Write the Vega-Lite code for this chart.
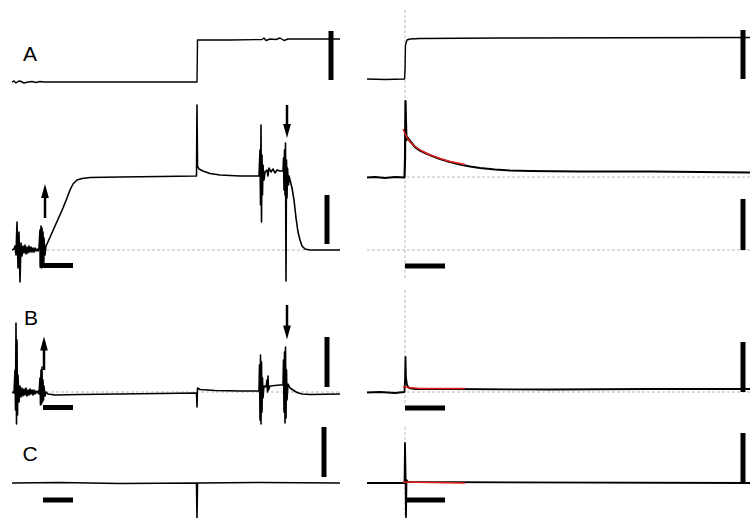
{
"$schema": "https://vega.github.io/schema/vega-lite/v6.json",
"padding": {"left": 12, "top": 0, "right": 0, "bottom": 0},
"background": "white",
"spacing": 0,
"config": {"view": {"stroke": null}, "font": "Liberation Sans", "line": {"strokeJoin": "round"}, "scale": {"continuousPadding": 0}},
"vconcat": [
{"spacing": 25, "bounds": "flush", "hconcat": [
 {"width": 330, "height": 95,
  "encoding": {"x": {"field": "t", "type": "quantitative", "axis": null, "scale": {"domain": [0, 165], "nice": false, "zero": false, "padding": 0}},
               "y": {"field": "v", "type": "quantitative", "axis": null, "scale": {"domain": [-13, 82], "nice": false, "zero": false, "padding": 0}}},
  "layer": [
   {"data": {"values": [{"t":0,"v":0},{"t":1,"v":1},{"t":2,"v":-1},{"t":3,"v":0.5},{"t":4,"v":1},{"t":6,"v":-1},{"t":8,"v":0},{"t":10,"v":0.5},{"t":12,"v":-0.5},{"t":14,"v":0.5},{"t":16,"v":0},{"t":44,"v":0},{"t":92.5,"v":0},{"t":92.75,"v":42},{"t":109,"v":42},{"t":125,"v":42.5},{"t":126,"v":44},{"t":127,"v":41.5},{"t":129,"v":43},{"t":132,"v":42.5},{"t":134,"v":44},{"t":136,"v":41.5},{"t":138,"v":43},{"t":144,"v":43},{"t":164,"v":43}]},
    "mark": {"type": "line", "color": "black", "strokeWidth": 1.4, "clip": true}},
   {"data": {"values": [{"t":159.5,"v":51,"v2":2}]},
    "mark": {"type": "bar", "orient": "vertical", "size": 5, "color": "black", "clip": true},
    "encoding": {"y2": {"field": "v2"}}},
   {"data": {"values": [{"t":9,"v":21,"label":"A"}]},
    "mark": {"type": "text", "fontSize": 21, "align": "center", "baseline": "alphabetic", "color": "black", "clip": true},
    "encoding": {"text": {"field": "label"}}}
  ]},
 {"width": 383, "height": 95,
  "encoding": {"x": {"field": "t", "type": "quantitative", "axis": null, "scale": {"domain": [-95, 862.5], "nice": false, "zero": false, "padding": 0}},
               "y": {"field": "v", "type": "quantitative", "axis": null, "scale": {"domain": [-13, 82], "nice": false, "zero": false, "padding": 0}}},
  "layer": [
   {"data": {"values": [{"t":0,"t2":0,"v":72,"v2":-13}]},
    "mark": {"type": "rule", "color": "#a8a8a8", "strokeWidth": 0.8, "strokeDash": [3, 2], "clip": true},
    "encoding": {"x2": {"field": "t2"}, "y2": {"field": "v2"}}},
   {"data": {"values": [{"t":-95,"v":3},{"t":-50,"v":2.5},{"t":-1.25,"v":3},{"t":0,"v":12},{"t":1.25,"v":37},{"t":5,"v":42},{"t":12.5,"v":43},{"t":37.5,"v":43.5},{"t":237.5,"v":44},{"t":862.5,"v":44.5}]},
    "mark": {"type": "line", "color": "black", "strokeWidth": 1.4, "clip": true}},
   {"data": {"values": [{"t":845,"v":52,"v2":3}]},
    "mark": {"type": "bar", "orient": "vertical", "size": 5, "color": "black", "clip": true},
    "encoding": {"y2": {"field": "v2"}}}
  ]}
]},
{"spacing": 25, "bounds": "flush", "hconcat": [
 {"width": 330, "height": 190,
  "encoding": {"x": {"field": "t", "type": "quantitative", "axis": null, "scale": {"domain": [0, 165], "nice": false, "zero": false, "padding": 0}},
               "y": {"field": "v", "type": "quantitative", "axis": null, "scale": {"domain": [-140, 620], "nice": false, "zero": false, "padding": 0}}},
  "layer": [
   {"data": {"values": [{"t":17.5,"t2":164,"v":0,"v2":0}]},
    "mark": {"type": "rule", "color": "#a8a8a8", "strokeWidth": 0.8, "strokeDash": [3, 2], "clip": true},
    "encoding": {"x2": {"field": "t2"}, "y2": {"field": "v2"}}},
   {"data": {"values": [{"t":0,"v":0},{"t":1,"v":4},{"t":1.5,"v":16},{"t":2,"v":-20},{"t":2.5,"v":112},{"t":3,"v":-72},{"t":3.5,"v":72},{"t":4,"v":-128},{"t":4.5,"v":28},{"t":5,"v":-24},{"t":5.5,"v":16},{"t":6,"v":-12},{"t":6.5,"v":20},{"t":7,"v":-16},{"t":7.5,"v":12},{"t":8,"v":-12},{"t":8.5,"v":16},{"t":9,"v":-8},{"t":9.5,"v":12},{"t":10,"v":-8},{"t":10.5,"v":8},{"t":11,"v":-8},{"t":11.5,"v":8},{"t":12,"v":-4},{"t":12.5,"v":4},{"t":13,"v":-4},{"t":13.5,"v":8},{"t":14,"v":80},{"t":14.25,"v":-64},{"t":14.5,"v":96},{"t":14.75,"v":-72},{"t":15,"v":88},{"t":15.25,"v":-60},{"t":15.5,"v":72},{"t":15.75,"v":-48},{"t":16,"v":48},{"t":16.5,"v":-20},{"t":17,"v":16},{"t":17.5,"v":24},{"t":21.5,"v":96},{"t":25.5,"v":168},{"t":27.5,"v":208},{"t":29,"v":240},{"t":30.5,"v":264},{"t":32.5,"v":280},{"t":35,"v":286},{"t":39,"v":290},{"t":54,"v":292},{"t":74,"v":294},{"t":92.25,"v":296},{"t":92.5,"v":580},{"t":92.75,"v":336},{"t":93.5,"v":324},{"t":95.5,"v":316},{"t":99,"v":306},{"t":104,"v":300},{"t":114,"v":296},{"t":123.5,"v":296},{"t":124,"v":400},{"t":124.25,"v":180},{"t":124.5,"v":500},{"t":124.75,"v":112},{"t":125,"v":380},{"t":125.25,"v":220},{"t":125.5,"v":340},{"t":126,"v":280},{"t":126.5,"v":312},{"t":127.5,"v":320},{"t":128,"v":296},{"t":128.5,"v":328},{"t":129.5,"v":312},{"t":130.5,"v":324},{"t":131.5,"v":308},{"t":132.5,"v":320},{"t":134,"v":316},{"t":135.5,"v":316},{"t":135.75,"v":368},{"t":136,"v":240},{"t":136.25,"v":400},{"t":136.5,"v":220},{"t":136.75,"v":428},{"t":137,"v":-124},{"t":137.25,"v":360},{"t":137.5,"v":208},{"t":137.75,"v":328},{"t":138.25,"v":260},{"t":138.5,"v":296},{"t":139,"v":280},{"t":140,"v":248},{"t":141,"v":200},{"t":142,"v":128},{"t":143,"v":72},{"t":144,"v":40},{"t":145,"v":16},{"t":146.5,"v":4},{"t":149,"v":0},{"t":164,"v":0}]},
    "mark": {"type": "line", "color": "black", "strokeWidth": 1.6, "clip": true}},
   {"data": {"values": [{"t":15,"v":20,"v2":-72},{"t":157.5,"v":220,"v2":24}]},
    "mark": {"type": "bar", "orient": "vertical", "size": 5, "color": "black", "clip": true},
    "encoding": {"y2": {"field": "v2"}}},
   {"data": {"values": [{"t":15.5,"t2":30.5,"v":-62}]},
    "mark": {"type": "bar", "orient": "horizontal", "size": 5, "color": "black", "clip": true},
    "encoding": {"x2": {"field": "t2"}}},
   {"data": {"values": [{"t":16.5,"t2":16.5,"v":128,"v2":216},{"t":137.5,"t2":137.5,"v":580,"v2":504}]},
    "mark": {"type": "rule", "color": "black", "strokeWidth": 2.5, "clip": true},
    "encoding": {"x2": {"field": "t2"}, "y2": {"field": "v2"}}},
   {"data": {"values": [{"t":16.5,"v":236,"dir":"up"},{"t":137.5,"v":476,"dir":"down"}]},
    "mark": {"type": "point", "filled": true, "color": "black", "opacity": 1, "size": 196, "strokeWidth": 0, "clip": true},
    "encoding": {"shape": {"field": "dir", "type": "nominal", "legend": null, "scale": {"domain": ["up", "down"], "range": ["M-0.55,1L0.55,1L0,-1Z", "M-0.55,-1L0.55,-1L0,1Z"]}}}}
  ]},
 {"width": 383, "height": 190,
  "encoding": {"x": {"field": "t", "type": "quantitative", "axis": null, "scale": {"domain": [-95, 862.5], "nice": false, "zero": false, "padding": 0}},
               "y": {"field": "v", "type": "quantitative", "axis": null, "scale": {"domain": [-140, 620], "nice": false, "zero": false, "padding": 0}}},
  "layer": [
   {"data": {"values": [{"t":-95,"t2":862.5,"v":292,"v2":292},{"t":-95,"t2":862.5,"v":0,"v2":0},{"t":0,"t2":0,"v":620,"v2":-120}]},
    "mark": {"type": "rule", "color": "#a8a8a8", "strokeWidth": 0.8, "strokeDash": [3, 2], "clip": true},
    "encoding": {"x2": {"field": "t2"}, "y2": {"field": "v2"}}},
   {"data": {"values": [{"t":-95,"v":290},{"t":-75,"v":292},{"t":-50,"v":288},{"t":-25,"v":292},{"t":-1.25,"v":290},{"t":0,"v":360},{"t":1.25,"v":596},{"t":2.5,"v":500},{"t":3.75,"v":440},{"t":5,"v":452},{"t":12.5,"v":436},{"t":25,"v":412},{"t":37.5,"v":398},{"t":50,"v":388},{"t":67.5,"v":376},{"t":87.5,"v":364},{"t":112.5,"v":352},{"t":137.5,"v":342},{"t":162.5,"v":334},{"t":187.5,"v":328},{"t":225,"v":322},{"t":262.5,"v":318},{"t":312.5,"v":316},{"t":437.5,"v":314},{"t":612.5,"v":314},{"t":737.5,"v":312},{"t":862.5,"v":310}]},
    "mark": {"type": "line", "color": "black", "strokeWidth": 2.2, "clip": true}},
   {"data": {"values": [{"t":-5,"v":484},{"t":2.5,"v":456},{"t":12.5,"v":432},{"t":25,"v":414},{"t":37.5,"v":400},{"t":62.5,"v":380},{"t":87.5,"v":366},{"t":112.5,"v":354},{"t":150,"v":342}]},
    "mark": {"type": "line", "color": "#e3211c", "strokeWidth": 1.4, "clip": true}},
   {"data": {"values": [{"t":845,"v":204,"v2":0}]},
    "mark": {"type": "bar", "orient": "vertical", "size": 5, "color": "black", "clip": true},
    "encoding": {"y2": {"field": "v2"}}},
   {"data": {"values": [{"t":0,"t2":100,"v":-64}]},
    "mark": {"type": "bar", "orient": "horizontal", "size": 5, "color": "black", "clip": true},
    "encoding": {"x2": {"field": "t2"}}}
  ]}
]},
{"spacing": 25, "bounds": "flush", "hconcat": [
 {"width": 330, "height": 140,
  "encoding": {"x": {"field": "t", "type": "quantitative", "axis": null, "scale": {"domain": [0, 165], "nice": false, "zero": false, "padding": 0}},
               "y": {"field": "v", "type": "quantitative", "axis": null, "scale": {"domain": [-66, 214], "nice": false, "zero": false, "padding": 0}}},
  "layer": [
   {"data": {"values": [{"t":17,"t2":164,"v":0,"v2":0}]},
    "mark": {"type": "rule", "color": "#a8a8a8", "strokeWidth": 0.8, "strokeDash": [3, 2], "clip": true},
    "encoding": {"x2": {"field": "t2"}, "y2": {"field": "v2"}}},
   {"data": {"values": [{"t":0,"v":0},{"t":1,"v":-2},{"t":1.5,"v":44},{"t":1.75,"v":-36},{"t":2,"v":138},{"t":2.25,"v":-64},{"t":2.5,"v":104},{"t":2.75,"v":-46},{"t":3,"v":34},{"t":3.5,"v":-20},{"t":4,"v":12},{"t":4.5,"v":-10},{"t":5,"v":8},{"t":5.5,"v":-8},{"t":6,"v":6},{"t":6.5,"v":-6},{"t":7,"v":8},{"t":7.5,"v":-8},{"t":8,"v":4},{"t":8.5,"v":-6},{"t":9,"v":6},{"t":9.5,"v":-4},{"t":10,"v":4},{"t":10.5,"v":-6},{"t":11,"v":4},{"t":11.5,"v":-4},{"t":12,"v":2},{"t":12.5,"v":-2},{"t":13,"v":2},{"t":13.5,"v":-4},{"t":14,"v":28},{"t":14.25,"v":-26},{"t":14.5,"v":44},{"t":14.75,"v":-24},{"t":15,"v":50},{"t":15.25,"v":-20},{"t":15.5,"v":24},{"t":15.75,"v":-16},{"t":16,"v":12},{"t":16.5,"v":-8},{"t":17,"v":0},{"t":18,"v":-4},{"t":21.5,"v":-6},{"t":34,"v":-5},{"t":54,"v":-4},{"t":74,"v":-3},{"t":92.25,"v":-2},{"t":92.5,"v":-30},{"t":92.75,"v":8},{"t":94,"v":5},{"t":101.5,"v":3},{"t":114,"v":2},{"t":123.5,"v":2},{"t":123.75,"v":54},{"t":124,"v":-56},{"t":124.25,"v":74},{"t":124.5,"v":-64},{"t":124.75,"v":60},{"t":125,"v":-40},{"t":125.25,"v":28},{"t":125.5,"v":-12},{"t":126,"v":12},{"t":127,"v":10},{"t":127.5,"v":24},{"t":127.75,"v":0},{"t":128,"v":32},{"t":128.25,"v":4},{"t":129,"v":12},{"t":131.5,"v":13},{"t":134,"v":14},{"t":135.5,"v":14},{"t":135.75,"v":64},{"t":136,"v":-40},{"t":136.25,"v":80},{"t":136.5,"v":-62},{"t":136.75,"v":90},{"t":137,"v":-52},{"t":137.25,"v":44},{"t":137.5,"v":-16},{"t":138,"v":16},{"t":139,"v":8},{"t":140.5,"v":4},{"t":142.5,"v":-1},{"t":145,"v":-4},{"t":149,"v":-5},{"t":164,"v":-4}]},
    "mark": {"type": "line", "color": "black", "strokeWidth": 1.6, "clip": true}},
   {"data": {"values": [{"t":157.5,"v":110,"v2":10}]},
    "mark": {"type": "bar", "orient": "vertical", "size": 5, "color": "black", "clip": true},
    "encoding": {"y2": {"field": "v2"}}},
   {"data": {"values": [{"t":15.5,"t2":30.5,"v":-31}]},
    "mark": {"type": "bar", "orient": "horizontal", "size": 5, "color": "black", "clip": true},
    "encoding": {"x2": {"field": "t2"}}},
   {"data": {"values": [{"t":16,"t2":16,"v":44,"v2":84},{"t":137.5,"t2":137.5,"v":174,"v2":132}]},
    "mark": {"type": "rule", "color": "black", "strokeWidth": 2.5, "clip": true},
    "encoding": {"x2": {"field": "t2"}, "y2": {"field": "v2"}}},
   {"data": {"values": [{"t":16,"v":97,"dir":"up"},{"t":137.5,"v":119,"dir":"down"}]},
    "mark": {"type": "point", "filled": true, "color": "black", "opacity": 1, "size": 196, "strokeWidth": 0, "clip": true},
    "encoding": {"shape": {"field": "dir", "type": "nominal", "legend": null, "scale": {"domain": ["up", "down"], "range": ["M-0.55,1L0.55,1L0,-1Z", "M-0.55,-1L0.55,-1L0,1Z"]}}}},
   {"data": {"values": [{"t":9.5,"v":134,"label":"B"}]},
    "mark": {"type": "text", "fontSize": 21, "align": "center", "baseline": "alphabetic", "color": "black", "clip": true},
    "encoding": {"text": {"field": "label"}}}
  ]},
 {"width": 383, "height": 140,
  "encoding": {"x": {"field": "t", "type": "quantitative", "axis": null, "scale": {"domain": [-95, 862.5], "nice": false, "zero": false, "padding": 0}},
               "y": {"field": "v", "type": "quantitative", "axis": null, "scale": {"domain": [-66, 214], "nice": false, "zero": false, "padding": 0}}},
  "layer": [
   {"data": {"values": [{"t":-95,"t2":862.5,"v":0,"v2":0},{"t":0,"t2":0,"v":204,"v2":-22}]},
    "mark": {"type": "rule", "color": "#a8a8a8", "strokeWidth": 0.8, "strokeDash": [3, 2], "clip": true},
    "encoding": {"x2": {"field": "t2"}, "y2": {"field": "v2"}}},
   {"data": {"values": [{"t":-95,"v":-1},{"t":-62.5,"v":0},{"t":-25,"v":-2},{"t":-1.25,"v":0},{"t":0,"v":24},{"t":1.25,"v":70},{"t":2.5,"v":28},{"t":5,"v":14},{"t":10,"v":8},{"t":25,"v":6},{"t":112.5,"v":6},{"t":362.5,"v":5},{"t":612.5,"v":6},{"t":862.5,"v":6}]},
    "mark": {"type": "line", "color": "black", "strokeWidth": 1.8, "clip": true}},
   {"data": {"values": [{"t":-5,"v":10},{"t":37.5,"v":7},{"t":150,"v":7}]},
    "mark": {"type": "line", "color": "#e3211c", "strokeWidth": 1.4, "clip": true}},
   {"data": {"values": [{"t":845,"v":100,"v2":0}]},
    "mark": {"type": "bar", "orient": "vertical", "size": 5, "color": "black", "clip": true},
    "encoding": {"y2": {"field": "v2"}}},
   {"data": {"values": [{"t":0,"t2":100,"v":-32}]},
    "mark": {"type": "bar", "orient": "horizontal", "size": 5, "color": "black", "clip": true},
    "encoding": {"x2": {"field": "t2"}}}
  ]}
]},
{"spacing": 25, "bounds": "flush", "hconcat": [
 {"width": 330, "height": 93,
  "encoding": {"x": {"field": "t", "type": "quantitative", "axis": null, "scale": {"domain": [0, 165], "nice": false, "zero": false, "padding": 0}},
               "y": {"field": "v", "type": "quantitative", "axis": null, "scale": {"domain": [-70, 116], "nice": false, "zero": false, "padding": 0}}},
  "layer": [
   {"data": {"values": [{"t":0,"v":0},{"t":24,"v":1},{"t":54,"v":-1},{"t":92.25,"v":0},{"t":92.5,"v":-70},{"t":92.75,"v":0},{"t":124,"v":1},{"t":164,"v":0}]},
    "mark": {"type": "line", "color": "black", "strokeWidth": 1.6, "clip": true}},
   {"data": {"values": [{"t":156,"v":112,"v2":12}]},
    "mark": {"type": "bar", "orient": "vertical", "size": 5, "color": "black", "clip": true},
    "encoding": {"y2": {"field": "v2"}}},
   {"data": {"values": [{"t":15.5,"t2":30.5,"v":-34}]},
    "mark": {"type": "bar", "orient": "horizontal", "size": 5, "color": "black", "clip": true},
    "encoding": {"x2": {"field": "t2"}}},
   {"data": {"values": [{"t":9,"v":44,"label":"C"}]},
    "mark": {"type": "text", "fontSize": 21, "align": "center", "baseline": "alphabetic", "color": "black", "clip": true},
    "encoding": {"text": {"field": "label"}}}
  ]},
 {"width": 383, "height": 93,
  "encoding": {"x": {"field": "t", "type": "quantitative", "axis": null, "scale": {"domain": [-95, 862.5], "nice": false, "zero": false, "padding": 0}},
               "y": {"field": "v", "type": "quantitative", "axis": null, "scale": {"domain": [-70, 116], "nice": false, "zero": false, "padding": 0}}},
  "layer": [
   {"data": {"values": [{"t":0,"t2":0,"v":112,"v2":-70}]},
    "mark": {"type": "rule", "color": "#a8a8a8", "strokeWidth": 0.8, "strokeDash": [3, 2], "clip": true},
    "encoding": {"x2": {"field": "t2"}, "y2": {"field": "v2"}}},
   {"data": {"values": [{"t":-95,"v":0},{"t":-1.25,"v":0},{"t":0,"v":80},{"t":1.25,"v":26},{"t":2.5,"v":-68},{"t":3.75,"v":6},{"t":7.5,"v":2},{"t":862.5,"v":0}]},
    "mark": {"type": "line", "color": "black", "strokeWidth": 1.8, "clip": true}},
   {"data": {"values": [{"t":-5,"v":2},{"t":150,"v":0}]},
    "mark": {"type": "line", "color": "#e3211c", "strokeWidth": 1.4, "clip": true}},
   {"data": {"values": [{"t":845,"v":100,"v2":0}]},
    "mark": {"type": "bar", "orient": "vertical", "size": 5, "color": "black", "clip": true},
    "encoding": {"y2": {"field": "v2"}}},
   {"data": {"values": [{"t":0,"t2":100,"v":-34}]},
    "mark": {"type": "bar", "orient": "horizontal", "size": 5, "color": "black", "clip": true},
    "encoding": {"x2": {"field": "t2"}}}
  ]}
]}
]
}
